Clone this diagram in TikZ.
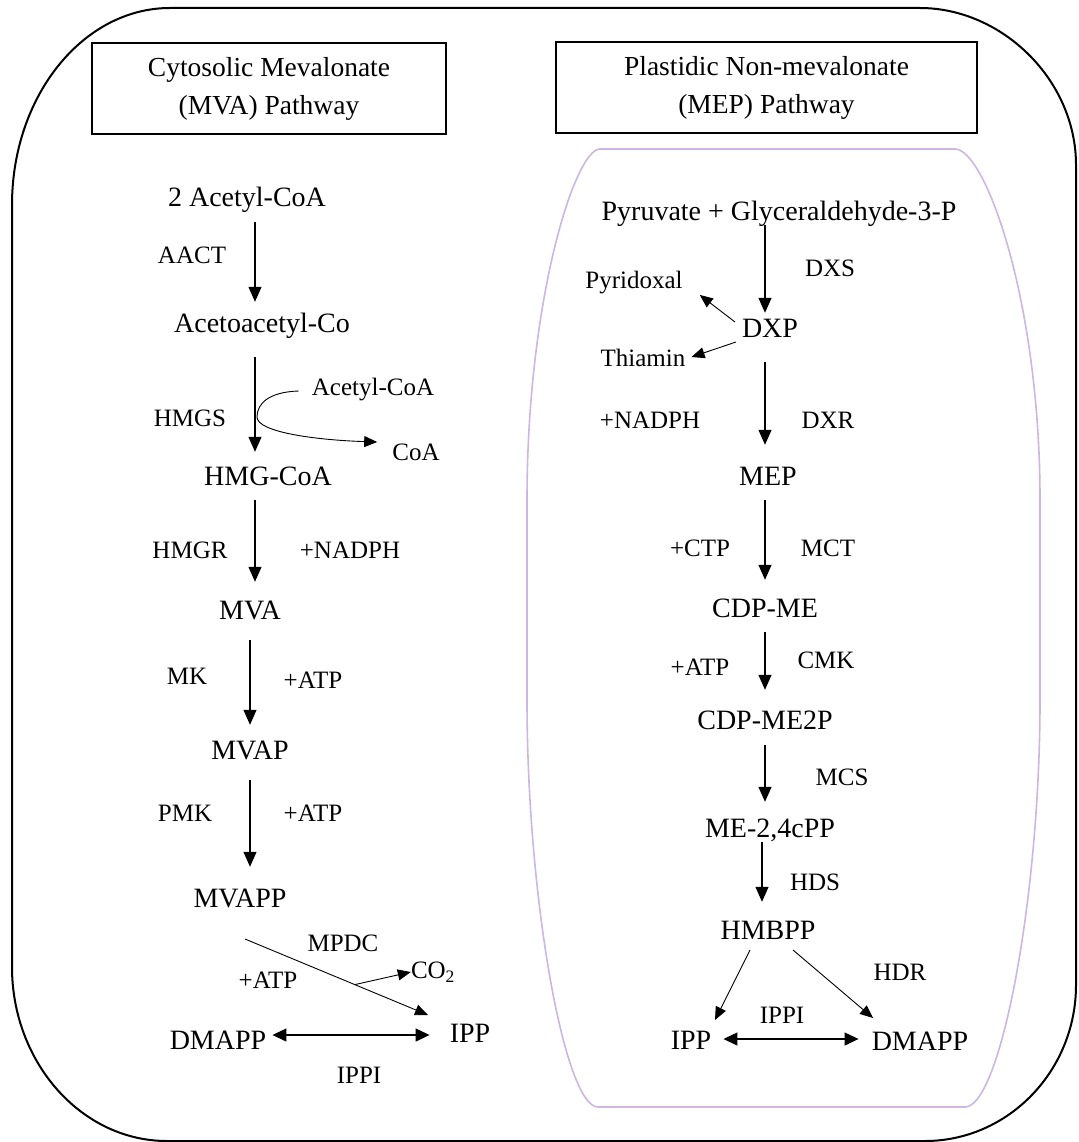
\documentclass[tikz,border=0pt]{standalone}
\usepackage{fontspec}
\setmainfont{Liberation Serif}
\usetikzlibrary{arrows.meta,calc}
\definecolor{lav}{RGB}{204,182,226}
\begin{document}
\begin{tikzpicture}[x=1pt,y=-1pt,
 met/.style={inner sep=0pt, text height=20pt, text depth=6pt, font=\fontsize{28}{34}\selectfont},
 enz/.style={inner sep=0pt, font=\fontsize{25}{30}\selectfont},
 ttl/.style={draw, line width=2pt, minimum height=91pt, align=center, inner sep=0pt, font=\fontsize{27.5}{38}\selectfont},
 arr/.style={line width=1.2pt, -{Triangle[length=15pt,width=13pt]}},
 sarr/.style={line width=0.9pt, -{Triangle[length=13pt,width=11pt]}},
 dbl/.style={line width=1.2pt, {Triangle[length=14pt,width=13pt]}-{Triangle[length=14pt,width=13pt]}}
]
\useasboundingbox (0,0) rectangle (1078,1142);
% outer compartment
\draw[line width=2pt] (170,8) -- (920,8) .. controls (1002,8) and (1076,80) .. (1076,165)
  -- (1076,985) .. controls (1076,1071) and (1008,1141) .. (925,1141)
  -- (167,1141) .. controls (81,1141) and (12,1062) .. (12,967)
  -- (12,205) .. controls (12,96) and (83,8) .. (170,8) -- cycle;
% plastid
\draw[lav, line width=1.6pt] (600,149) -- (955,149) .. controls (985,149) and (1040,300) .. (1040,500)
  -- (1040,700) .. controls (1040,900) and (1000,1107) .. (965,1107)
  -- (598,1107) .. controls (565,1107) and (527,900) .. (527,700)
  -- (527,500) .. controls (527,300) and (575,149) .. (600,149) -- cycle;
% titles
\node[ttl, minimum width=354pt] (t1) at (269,88.5) {Cytosolic Mevalonate\\(MVA) Pathway};
\node[ttl, minimum width=421pt] (t2) at (766.5,88) {Plastidic Non-mevalonate\\(MEP) Pathway};
% MVA pathway
\node[met] (ac2) at (247,200) {2 Acetyl-CoA};
\node[met] (aca) at (262,325) {Acetoacetyl-Co};
\node[met] (hmg) at (268,478) {HMG-CoA};
\node[met] (mva) at (250,612) {MVA};
\node[met] (mvap) at (250,752) {MVAP};
\node[met] (mvapp) at (240,900) {MVAPP};
\node[met] (ippL) at (470,1035) {IPP};
\node[met] (dmappL) at (218,1042) {DMAPP};
\node[enz] (acs) at (373,390) {Acetyl-CoA};
\node[enz] (coa) at (416,452) {CoA};
\node[enz] (co2) at (433,972) {CO\textsubscript{2}};
\node[enz] (aact) at (192,255) {AACT};
\node[enz] (hmgs) at (190,418) {HMGS};
\node[enz] (hmgr) at (190,550) {HMGR};
\node[enz] (nadphL) at (350,550) {+NADPH};
\node[enz] (mk) at (187,676) {MK};
\node[enz] (atp1) at (313,680) {+ATP};
\node[enz] (pmk) at (185,813) {PMK};
\node[enz] (atp2) at (313,813) {+ATP};
\node[enz] (mpdc) at (343,943) {MPDC};
\node[enz] (atp3) at (268,980) {+ATP};
\node[enz] (ippiL) at (359,1075) {IPPI};
% MEP pathway
\node[met] (pyr) at (779,213) {Pyruvate + Glyceraldehyde-3-P};
\node[met] (dxp) at (770,330) {DXP};
\node[enz] (pyrid) at (634,283) {Pyridoxal};
\node[enz] (thi) at (643,358) {Thiamin};
\node[enz] (dxs) at (830,268) {DXS};
\node[enz] (nadphR) at (650,420) {+NADPH};
\node[enz] (dxr) at (828,420) {DXR};
\node[met] (mep) at (768,478) {MEP};
\node[enz] (ctp) at (700,548) {+CTP};
\node[enz] (mct) at (828,548) {MCT};
\node[met] (cdpme) at (765,610) {CDP-ME};
\node[enz] (atp4) at (700,667) {+ATP};
\node[enz] (cmk) at (826,660) {CMK};
\node[met] (cdpme2p) at (765,722) {CDP-ME2P};
\node[enz] (mcs) at (842,777) {MCS};
\node[met] (me24) at (770,830) {ME-2,4cPP};
\node[enz] (hds) at (815,882) {HDS};
\node[met] (hmbpp) at (768,932) {HMBPP};
\node[enz] (hdr) at (900,972) {HDR};
\node[met] (ippR) at (691,1042) {IPP};
\node[met] (dmappR) at (920,1043) {DMAPP};
\node[enz] (ippiR) at (782,1015) {IPPI};
% guide coordinates
\coordinate (xL) at (255,0);
\coordinate (xL2) at (250,0);
\coordinate (xR) at (765,0);
\coordinate (xR3) at (762,0);
% MVA arrows
\draw[arr, shorten <=9pt, shorten >=10pt] (ac2.south -| xL) -- (aca.north -| xL);
\draw[arr, shorten <=19pt, shorten >=13pt] (aca.south -| xL) -- (hmg.north -| xL);
\draw[arr, shorten <=9pt, shorten >=17pt] (hmg.south -| xL) -- (mva.north -| xL);
\draw[arr, shorten <=15pt, shorten >=14pt] (mva.south -| xL2) -- (mvap.north -| xL2);
\draw[arr, shorten <=15pt, shorten >=20pt] (mvap.south -| xL2) -- (mvapp.north -| xL2);
\draw[sarr] ($(acs.west)+(-13,1)$) .. controls (268,392) and (257,404) .. (257,417)
  .. controls (257,432) and (315,440) .. ($(coa.west)+(-15,-10)$);
\coordinate (dA) at ($(mvapp.center)+(5,39)$);
\coordinate (dB) at ($(ippL.center)+(-42,-20)$);
\draw[sarr] (dA) -- (dB);
\draw[sarr] ($(dA)!0.6!(dB)$) -- (co2.west);
\draw[dbl, shorten <=6pt, shorten >=20pt] (dmappL.east |- ippL.west) -- (ippL.west);
% MEP arrows
\draw[arr, shorten <=-1pt, shorten >=4pt] (pyr.south -| xR) -- (dxp.north -| xR);
\draw[sarr] ($(dxp.center)+(-35,-8)$) -- ($(pyrid.east)+(17,12)$);
\draw[sarr] ($(dxp.center)+(-34,12)$) -- ($(thi.east)+(6,-1)$);
\draw[arr, shorten <=19pt, shorten >=20pt] (dxp.south -| xR) -- (mep.north -| xR);
\draw[arr, shorten <=9pt, shorten >=17pt] (mep.south -| xR) -- (cdpme.north -| xR);
\draw[arr, shorten <=9pt, shorten >=19pt] (cdpme.south -| xR) -- (cdpme2p.north -| xR);
\draw[arr, shorten <=10pt, shorten >=15pt] (cdpme2p.south -| xR) -- (me24.north -| xR);
\draw[arr, shorten <=-1pt, shorten >=17pt] (me24.south -| xR3) -- (hmbpp.north -| xR3);
\draw[sarr] ($(hmbpp.center)+(-18,18)$) -- ($(ippR.center)+(24,-22)$);
\draw[sarr] ($(hmbpp.center)+(25,18)$) -- ($(dmappR.center)+(-47,-25)$);
\draw[dbl, shorten <=12pt, shorten >=13pt] ($(ippR.east)+(0,-3)$) -- ($(dmappR.west)+(0,-4)$);
\end{tikzpicture}
\end{document}
